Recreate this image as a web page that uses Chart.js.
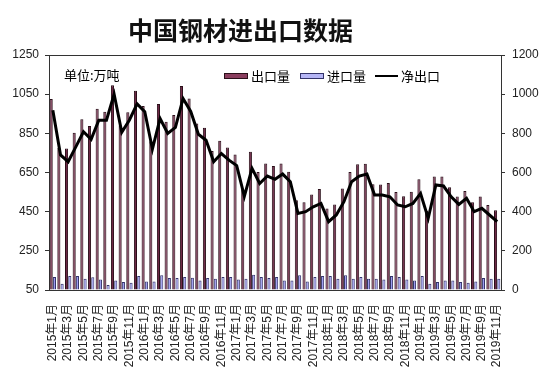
<!DOCTYPE html>
<html>
<head>
<meta charset="utf-8">
<script src="https://cdn.jsdelivr.net/npm/chart.js@4.4.1/dist/chart.umd.min.js"></script>
<style>
  html, body { margin: 0; padding: 0; background: #fff; }
  #wrap { position: relative; width: 550px; height: 373px; overflow: hidden; }
  #c { position: absolute; left: 0; top: 0; }
  .ov { position: absolute; white-space: nowrap; color: #000; font-family: 'Noto Sans CJK SC', 'Liberation Sans', sans-serif; }
  #title { left: 128px; top: 12px; font-size: 25px; font-weight: bold; line-height: 34px; color: #111; }
  #unit { left: 64px; top: 66px; font-size: 13px; line-height: 18px; }
  .lg { top: 67px; font-size: 13px; line-height: 18px; display: flex; align-items: center; }
  .sw { display: inline-block; box-sizing: border-box; margin-right: 3px; }
</style>
</head>
<body>
<div id="wrap">
  <canvas id="c" width="550" height="373"></canvas>
  <div id="title" class="ov">中国钢材进出口数据</div>
  <div id="unit" class="ov">单位:万吨</div>
</div>
<script>
// ---- data ----
const months = [
  '2015年1月','2015年2月','2015年3月','2015年4月','2015年5月','2015年6月','2015年7月','2015年8月','2015年9月','2015年10月','2015年11月','2015年12月',
  '2016年1月','2016年2月','2016年3月','2016年4月','2016年5月','2016年6月','2016年7月','2016年8月','2016年9月','2016年10月','2016年11月','2016年12月',
  '2017年1月','2017年2月','2017年3月','2017年4月','2017年5月','2017年6月','2017年7月','2017年8月','2017年9月','2017年10月','2017年11月','2017年12月',
  '2018年1月','2018年2月','2018年3月','2018年4月','2018年5月','2018年6月','2018年7月','2018年8月','2018年9月','2018年10月','2018年11月','2018年12月',
  '2019年1月','2019年2月','2019年3月','2019年4月','2019年5月','2019年6月','2019年7月','2019年8月','2019年9月','2019年10月','2019年11月'
];
const exportVol = [
  1025, 775, 772, 853, 922, 887, 975, 960, 1095, 890,
  958, 1068, 990, 810, 1000, 909, 943, 1092, 1028, 900,
  878, 760, 812, 778, 742, 565, 756, 652, 696, 683,
  696, 654, 508, 498, 538, 566, 466, 487, 568, 652,
  692, 695, 590, 589, 597, 550, 529, 552, 615, 455,
  630, 630, 575, 528, 555, 498, 528, 484, 457
];
const importVol = [
  116, 82, 121, 121, 108, 115, 104, 75, 99, 91,
  87, 121, 94, 94, 125, 111, 111, 116, 113, 99,
  111, 108, 116, 116, 104, 108, 128, 116, 111, 116,
  99, 99, 125, 94, 116, 121, 121, 108, 125, 108,
  116, 108, 108, 104, 121, 116, 104, 99, 121, 82,
  91, 99, 99, 91, 87, 94, 111, 108, 108
];
const netExport = [
  918, 690, 655, 731, 808, 769, 867, 867, 1000, 805,
  868, 950, 910, 720, 876, 799, 830, 978, 912, 795,
  765, 655, 697, 663, 635, 478, 621, 544, 582, 565,
  592, 553, 391, 400, 425, 442, 349, 383, 451, 553,
  582, 592, 485, 485, 476, 434, 425, 442, 493, 366,
  536, 531, 476, 437, 468, 400, 417, 383, 349
];
const seriesNames = ['出口量', '进口量', '净出口'];
const leftTicks = [50, 250, 450, 650, 850, 1050, 1250];
const rightTicks = [0, 200, 400, 600, 800, 1000, 1200];

// ---- styles ----
const FONT = "'Liberation Sans', 'Noto Sans CJK SC', sans-serif";
const exportFill = '#6e2846', exportEdge = '#2a0f19';
const importFill = '#9c9cf0', importEdge = '#34346a';
const axisColor = '#333';

const frame = {
  id: 'frame',
  afterDraw(chart) {
    const { ctx, chartArea: a } = chart;
    ctx.save();
    ctx.strokeStyle = axisColor;
    ctx.lineWidth = 1;
    ctx.beginPath();
    ctx.moveTo(a.left, a.top + 0.5);
    ctx.lineTo(a.right, a.top + 0.5);
    ctx.stroke();
    ctx.restore();
  }
};

const chart = new Chart(document.getElementById('c'), {
  type: 'bar',
  data: {
    labels: months,
    datasets: [
      { type: 'line', label: seriesNames[2], data: netExport, yAxisID: 'y1',
        borderColor: '#000', borderWidth: 3, pointRadius: 0, tension: 0, order: 0 },
      { label: seriesNames[0], data: exportVol, yAxisID: 'y', base: 50,
        backgroundColor: exportFill, borderColor: exportEdge, borderWidth: 1,
        categoryPercentage: 0.85, barPercentage: 0.95, order: 1 },
      { label: seriesNames[1], data: importVol, yAxisID: 'y', base: 50,
        backgroundColor: importFill, borderColor: importEdge, borderWidth: 1,
        categoryPercentage: 0.85, barPercentage: 0.95, order: 1 }
    ]
  },
  options: {
    responsive: false,
    animation: false,
    devicePixelRatio: 1,
    layout: { padding: { top: 55, left: 0, right: 0, bottom: 0 } },
    plugins: { legend: { display: false }, tooltip: { enabled: false }, title: { display: false } },
    scales: {
      x: {
        offset: true,
        grid: { display: false },
        border: { display: true, color: axisColor, width: 1 },
        ticks: {
          autoSkip: false, maxRotation: 90, minRotation: 90, padding: 6,
          color: '#222', font: { family: FONT, size: 12 },
          callback: (v, i) => (i % 2 === 0 ? months[i] : '')
        },
        afterFit: s => { s.height = 83; }
      },
      y: {
        position: 'left', min: 50, max: 1250,
        afterBuildTicks: s => { s.ticks = leftTicks.map(v => ({ value: v })); },
        grid: { display: true, drawOnChartArea: false, drawTicks: true, tickLength: 4, color: axisColor },
        border: { display: true, color: axisColor, width: 1 },
        ticks: { padding: 6, color: '#222', font: { family: FONT, size: 12 }, callback: v => String(v) },
        afterFit: s => { s.width = 49; }
      },
      y1: {
        position: 'right', min: 0, max: 1200,
        afterBuildTicks: s => { s.ticks = rightTicks.map(v => ({ value: v })); },
        grid: { display: true, drawOnChartArea: false, drawTicks: true, tickLength: 4, color: axisColor },
        border: { display: true, color: axisColor, width: 1 },
        ticks: { padding: 7, color: '#222', font: { family: FONT, size: 12 }, callback: v => String(v) },
        afterFit: s => { s.width = 49; }
      }
    }
  },
  plugins: [frame]
});

// ---- legend (HTML, built from datasets) ----
const legendX = [224, 300, 375];
const legendOrder = [1, 2, 0];
const wrap = document.getElementById('wrap');
legendOrder.forEach((di, k) => {
  const ds = chart.data.datasets[di];
  const item = document.createElement('div');
  item.className = 'ov lg';
  item.style.left = legendX[k] + 'px';
  const sw = document.createElement('span');
  sw.className = 'sw';
  if (ds.type === 'line') {
    sw.style.width = '23px'; sw.style.height = '2px'; sw.style.background = ds.borderColor;
  } else {
    sw.style.width = '24px'; sw.style.height = '6px';
    sw.style.background = di === 1 ? '#8a3d5e' : '#b6b6f6';
    sw.style.border = '1px solid ' + ds.borderColor;
  }
  item.appendChild(sw);
  const t = document.createElement('span');
  t.textContent = ds.label;
  item.appendChild(t);
  wrap.appendChild(item);
});
</script>
</body>
</html>
